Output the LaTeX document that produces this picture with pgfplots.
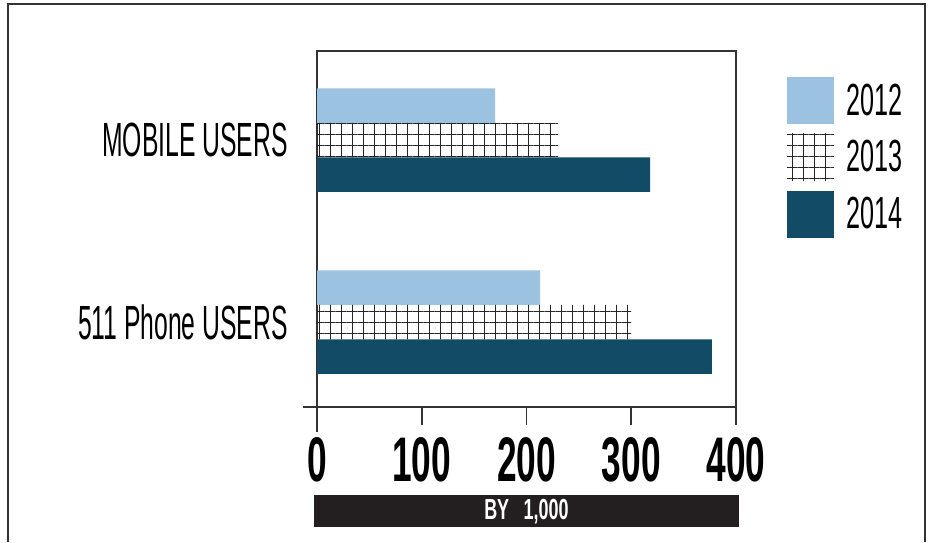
\documentclass[border=0pt]{standalone}
\usepackage{fontspec}
\setmainfont{Liberation Sans}
\newfontfamily\cond[FakeStretch=0.56]{Liberation Sans}
\newfontfamily\condcat[FakeStretch=0.515]{Liberation Sans}
\newfontfamily\condlab[FakeStretch=0.62]{Liberation Sans}
\usepackage{pgfplots}
\pgfplotsset{compat=1.18}
\usetikzlibrary{patterns.meta}
\definecolor{c12}{HTML}{9BC3E1}
\definecolor{c14}{HTML}{114B66}
\definecolor{axgray}{HTML}{333333}
\definecolor{barblack}{HTML}{231F20}
\begin{document}
\begin{tikzpicture}
\path[use as bounding box] (0,0) rectangle (932pt,542pt);
\draw[axgray, line width=1.5pt] (8pt,0pt) -- (8pt,538pt) -- (925pt,538pt) -- (925pt,0pt);
\begin{axis}[
  name=ax, at={(317pt,135pt)}, anchor=south west,
  scale only axis, width=419pt, height=356pt,
  xbar, bar width=34.5pt,
  xmin=0, xmax=400, ymin=-0.467, ymax=1.489,
  xtick={0,100,200,300,400}, ytick={0,1},
  xtick pos=bottom, ytick pos=left,
  yticklabels={511 Phone USERS, MOBILE USERS},
  axis line style={axgray, line width=1.5pt},
  tick align=outside, major tick length=18pt,
  x tick style={axgray, line width=1.5pt},
  y tick style={draw=none},
  /pgf/number format/assume math mode=true,
  xticklabel style={font=\cond\bfseries\fontsize{63}{63}\selectfont, inner sep=0pt, yshift=-12pt},
  yticklabel style={font=\condcat\fontsize{48}{48}\selectfont, inner sep=0pt, xshift=-11pt},
  xlabel={BY\hspace{0.5em}1,000},
  xlabel style={at={(axis description cs:0.5,0)}, anchor=north, yshift=-88pt, fill=barblack, text=white,
    font=\condlab\bfseries\fontsize{29}{29}\selectfont, minimum width=425pt, minimum height=32pt, inner sep=0pt},
  legend image code/.code={\draw[#1,draw=none] (0pt,-24pt) rectangle (47pt,23pt);},
  legend style={at={(1.121,0.927)}, anchor=north west, draw=none, fill=none, inner sep=0pt,
    row sep=9.7pt, font=\cond\fontsize{45}{45}\selectfont, nodes={inner sep=0pt},
    /tikz/every odd column/.append style={column sep=13pt}},
  legend cell align=left,
]
\addplot[fill=c12, draw=none, bar shift=34.5pt] coordinates {(213,0) (170,1)};
\addplot[pattern={Hatch[distance=11pt,angle=0,line width=1pt]}, pattern color=black!85, draw=none, bar shift=0pt] coordinates {(300,0) (230,1)};
\addplot[fill=c14, draw=none, bar shift=-34.5pt] coordinates {(377,0) (318,1)};
\legend{2012,2013,2014}
\end{axis}
\draw[axgray, line width=1.5pt] ([xshift=-14pt]ax.south west) -- (ax.south west);
\draw[axgray, line width=1.5pt] (ax.south west) -- ++(0,-25pt);
\end{tikzpicture}
\end{document}
